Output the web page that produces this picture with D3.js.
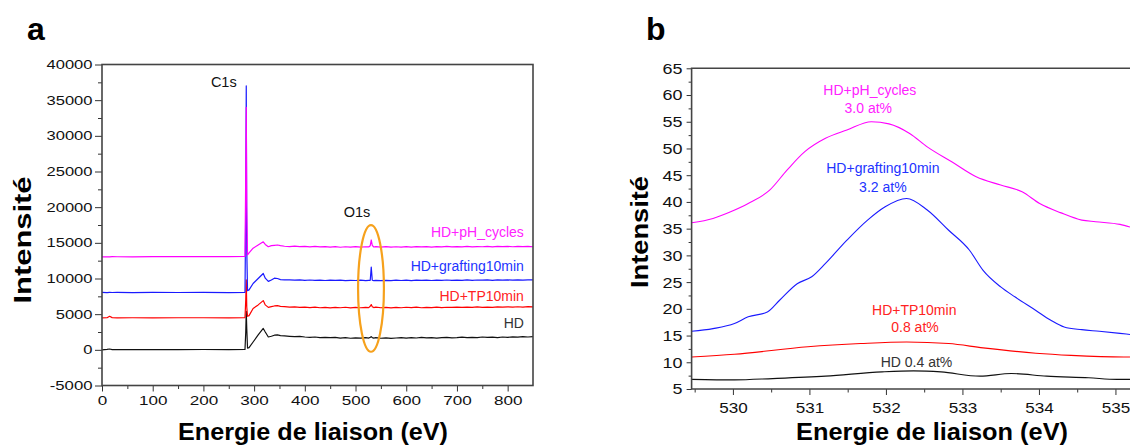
<!DOCTYPE html>
<html><head><meta charset="utf-8">
<script src="https://cdn.jsdelivr.net/npm/d3@7"></script>
<style>body{margin:0;background:#fff}svg{display:block}</style>
</head><body>
<svg id="c" width="1130" height="448"></svg>
<script>
// ---------- Panel a : survey spectra ----------
const surveyEnergy = [0,10,15,20,30,60,100,150,200,250,282,283.5,284.5,285.5,287,290,298,308,318,322,328,334,340,346,352,360,370,380,390,400,410,420,430,440,450,460,470,480,490,500,510,520,526,529,531,533,536,540,550,560,570,580,590,600,610,620,630,640,650,660,670,680,690,700,710,720,730,740,750,760,770,780,790,800,810,820,830,840,850];
const surveyHD = [0,60,120,40,50,20,40,30,50,30,60,2500,5400,3000,250,300,1100,2100,3000,2500,1800,1900,2050,2100,2000,1950,1900,1850,1880,1800,1760,1800,1720,1760,1700,1740,1650,1700,1620,1680,1640,1700,1650,1750,1850,1700,1650,1700,1620,1680,1600,1660,1720,1640,1700,1660,1740,1680,1720,1650,1700,1760,1680,1720,1780,1700,1760,1720,1800,1740,1780,1720,1800,1760,1820,1780,1840,1800,1840];
const surveyTP = [4480,4500,4700,4520,4490,4500,4490,4500,4500,4490,4500,7000,9800,6000,4700,4800,5800,6300,6900,6300,5950,6050,6150,6200,6100,6050,5980,6020,5950,6000,5920,5980,5900,5960,5880,5950,5900,5970,5880,5940,5900,5960,5920,6100,6350,6050,5920,5980,5900,5960,5880,5950,5900,5970,5920,5980,5900,5960,5930,5990,5920,5970,5940,6000,5950,5990,5940,6010,5960,6000,5950,6020,5980,6030,5990,6040,6000,6050,6030];
const surveyGraft = [8050,8030,8060,8040,8050,8030,8060,8040,8050,8030,8060,20000,37000,14000,8300,8400,9300,10000,10700,10050,9600,9800,10050,10000,9850,9800,9820,9760,9800,9750,9790,9740,9780,9720,9770,9730,9760,9700,9750,9720,9760,9700,9740,9750,11600,9760,9700,9740,9690,9750,9700,9760,9720,9770,9710,9760,9730,9780,9720,9770,9740,9790,9730,9780,9750,9800,9740,9790,9760,9800,9750,9810,9770,9800,9760,9810,9780,9820,9800];
const surveyPH = [13020,13050,13040,13060,13050,13040,13070,13060,13080,13070,13100,25000,34000,20000,13300,13600,14250,14700,15150,14780,14450,14600,14650,14700,14600,14520,14480,14550,14460,14500,14430,14490,14420,14470,14400,14460,14380,14450,14400,14470,14390,14450,14420,14600,15400,14650,14420,14470,14400,14460,14390,14450,14410,14470,14400,14460,14420,14480,14410,14470,14430,14490,14420,14470,14440,14500,14430,14480,14450,14500,14440,14490,14460,14510,14450,14490,14460,14500,14450];
const surveyXTicks = [0,100,200,300,400,500,600,700,800];
const surveyYTicks = [-5000,0,5000,10000,15000,20000,25000,30000,35000,40000];
const surveyNames = ["HD+pH_cycles","HD+grafting10min","HD+TP10min","HD"];

// ---------- Panel b : O1s region ----------
const o1sEnergyPH = [529.46,529.74,529.97,530.20,530.48,530.71,530.94,531.21,531.49,531.81,532.04,532.31,532.54,532.86,533.18,533.50,533.78,534.01,534.28,534.56,534.74,535.06,535.19];
const o1sPH = [36.1,36.9,38.15,39.7,42.2,46.0,49.4,51.9,53.45,55.0,54.6,52.8,50.3,47.5,44.7,43.15,41.9,39.7,38.0,36.6,36.3,35.8,35.3];
const o1sEnergyGraft = [529.46,529.74,530.02,530.20,530.45,530.61,530.84,531.03,531.21,531.49,531.76,531.99,532.27,532.54,532.82,533.09,533.27,533.50,533.69,533.96,534.15,534.33,534.56,534.79,535.06,535.19];
const o1sGraft = [15.8,16.3,17.25,18.5,19.4,21.6,24.7,26.0,28.5,32.85,36.6,39.1,40.65,38.5,34.7,31.0,27.2,24.1,22.2,19.7,17.9,16.6,16.1,15.8,15.4,15.2];
const o1sEnergyTP = [529.46,530.02,530.98,531.67,532.27,532.82,533.27,533.96,534.42,535.11,535.19];
const o1sTP = [11.0,11.5,12.9,13.5,13.8,13.5,12.7,11.7,11.3,11.0,11.0];
const o1sEnergyHD = [529.46,530.02,530.52,531.21,531.95,532.36,532.72,533.23,533.64,534.10,534.65,535.02,535.19];
const o1sHD = [6.8,6.7,6.95,7.4,8.2,8.4,8.2,7.4,7.9,7.4,7.1,6.8,6.8];
const o1sXTicks = [530,531,532,533,534,535];
const o1sYTicks = [5,10,15,20,25,30,35,40,45,50,55,60,65];
const o1sLabels = [
  {t:"HD+pH_cycles", e:531.79, v:60.0, c:"#ff22ff"},
  {t:"3.0 at%", e:531.77, v:56.7, c:"#ff22ff"},
  {t:"HD+grafting10min", e:531.96, v:45.47, c:"#2233ff"},
  {t:"3.2 at%", e:531.96, v:41.8, c:"#2233ff"},
  {t:"HD+TP10min", e:532.37, v:18.85, c:"#ff2222"},
  {t:"0.8 at%", e:532.38, v:15.6, c:"#ff2222"},
  {t:"HD 0.4 at%", e:532.40, v:9.17, c:"#333333"}
];

const colors = {ph:"#ff00ff", graft:"#1a1aff", tp:"#ff0000", hd:"#111111"};
const FONT = "Arial, 'Liberation Sans', sans-serif";

const svg = d3.select("#c");
svg.append("rect").attr("width",1130).attr("height",448).attr("fill","#fff");

function styleTicks(g, perChar, size){
  g.select(".domain").remove();
  g.selectAll("line").attr("stroke","#333").attr("stroke-width",1);
  g.selectAll("text").attr("font-family",FONT).attr("font-size",size).attr("fill","#111")
    .attr("textLength",function(){const s=this.textContent;return s.replace("-","").length*perChar+(s.includes("-")?6:0);})
    .attr("lengthAdjust","spacingAndGlyphs");
}

// ===== Panel a =====
const ax = d3.scaleLinear().domain([0,850]).range([102,533]);
const ay = d3.scaleLinear().domain([-5000,40000]).range([385.5,64.5]);
const gA = svg.append("g");

gA.append("g").attr("transform","translate(102,0)")
  .call(d3.axisLeft(ay).tickValues(d3.range(-2500,40000,5000)).tickSize(4).tickFormat(""))
  .call(g=>styleTicks(g,0,12));
gA.append("g").attr("transform","translate(102,0)")
  .call(d3.axisLeft(ay).tickValues(surveyYTicks).tickSize(7).tickPadding(2.5).tickFormat(d=>String(d)))
  .call(g=>styleTicks(g,9.2,12.5));
gA.append("g").attr("transform","translate(0,385.5)")
  .call(d3.axisBottom(ax).tickValues(d3.range(50,850,100)).tickSize(3.5).tickFormat(""))
  .call(g=>styleTicks(g,0,12));
gA.append("g").attr("transform","translate(0,385.5)")
  .call(d3.axisBottom(ax).tickValues(surveyXTicks).tickSize(6).tickPadding(4.5).tickFormat(d=>String(d)))
  .call(g=>styleTicks(g,9.5,13));

const lineA = arr => d3.line().x((d,i)=>ax(surveyEnergy[i])).y(d=>ay(d))(arr);
[[surveyHD,colors.hd],[surveyTP,colors.tp],[surveyGraft,colors.graft],[surveyPH,colors.ph]].forEach(([s,c])=>{
  gA.append("path").attr("d",lineA(s)).attr("fill","none").attr("stroke",c).attr("stroke-width",1.2).attr("stroke-linejoin","round");
});

gA.append("rect").attr("x",ax(0)).attr("y",ay(40000)).attr("width",ax(850)-ax(0)).attr("height",ay(-5000)-ay(40000))
  .attr("fill","none").attr("stroke","#444").attr("stroke-width",1.6);

// O1s ellipse
const ell = {e:530.5, v:8600, de:25.5, dv:8870};
gA.append("ellipse").attr("cx",ax(ell.e)).attr("cy",ay(ell.v))
  .attr("rx",ax(ell.e+ell.de)-ax(ell.e)).attr("ry",ay(ell.v-ell.dv)-ay(ell.v))
  .attr("fill","none").attr("stroke","#f6a11c").attr("stroke-width",2.2);

gA.append("text").attr("x",ax(240.2)).attr("y",ay(36840)).attr("text-anchor","middle")
  .attr("font-family",FONT).attr("font-size",14.5).attr("fill","#111").text("C1s");
gA.append("text").attr("x",ax(503)).attr("y",ay(18615)).attr("text-anchor","middle")
  .attr("font-family",FONT).attr("font-size",14.5).attr("fill","#111").text("O1s");
const aLabY = [15770,11090,6880,3010];
const aLabC = ["#ff22ff","#2233ff","#ff2222","#333333"];
surveyNames.forEach((n,i)=>{
  gA.append("text").attr("x",ax(832)).attr("y",ay(aLabY[i])).attr("text-anchor","end")
    .attr("font-family",FONT).attr("font-size",14).attr("fill",aLabC[i]).text(n);
});

gA.append("text").attr("transform","translate(31,240) rotate(-90)").attr("text-anchor","middle")
  .attr("font-family",FONT).attr("font-weight","bold").attr("font-size",24).attr("fill","#000")
  .attr("textLength",127).attr("lengthAdjust","spacingAndGlyphs").text("Intensité");
gA.append("text").attr("x",313).attr("y",440).attr("text-anchor","middle")
  .attr("font-family",FONT).attr("font-weight","bold").attr("font-size",24).attr("fill","#000")
  .attr("textLength",270).attr("lengthAdjust","spacingAndGlyphs").text("Energie de liaison (eV)");
gA.append("text").attr("x",27).attr("y",40).attr("font-family",FONT).attr("font-weight","bold")
  .attr("font-size",32).attr("fill","#000").text("a");

// ===== Panel b =====
const bx = d3.scaleLinear().domain([529.46,535.5]).range([691.6,1153.7]);
const by = d3.scaleLinear().domain([5,65]).range([389,68.3]);
const gB = svg.append("g");

gB.append("g").attr("transform","translate(691.6,0)")
  .call(d3.axisLeft(by).tickValues(d3.range(7.5,65,5)).tickSize(3).tickFormat(""))
  .call(g=>styleTicks(g,0,12));
gB.append("g").attr("transform","translate(691.6,0)")
  .call(d3.axisLeft(by).tickValues(o1sYTicks).tickSize(5).tickPadding(4).tickFormat(d=>String(d)))
  .call(g=>styleTicks(g,10,15.5));
gB.append("g").attr("transform","translate(0,389)")
  .call(d3.axisBottom(bx).tickValues(d3.range(529.5,535.6,1)).tickSize(3.5).tickFormat(""))
  .call(g=>styleTicks(g,0,12));
gB.append("g").attr("transform","translate(0,389)")
  .call(d3.axisBottom(bx).tickValues(o1sXTicks).tickSize(6).tickPadding(7).tickFormat(d=>String(d)))
  .call(g=>styleTicks(g,9.5,15));

const lineB = (xs,ys) => d3.line().curve(d3.curveMonotoneX).x((d,i)=>bx(xs[i])).y(d=>by(d))(ys);
[[o1sEnergyHD,o1sHD,colors.hd],[o1sEnergyTP,o1sTP,colors.tp],[o1sEnergyGraft,o1sGraft,colors.graft],[o1sEnergyPH,o1sPH,colors.ph]].forEach(([xs,ys,c])=>{
  gB.append("path").attr("d",lineB(xs,ys)).attr("fill","none").attr("stroke",c).attr("stroke-width",1.1).attr("stroke-linejoin","round");
});

gB.append("path").attr("d",`M${bx(535.5)},${by(65)}H${bx(529.46)}V${by(5)}H${bx(535.5)}`)
  .attr("fill","none").attr("stroke","#444").attr("stroke-width",1.6);

o1sLabels.forEach(l=>{
  gB.append("text").attr("x",bx(l.e)).attr("y",by(l.v)).attr("text-anchor","middle")
    .attr("font-family",FONT).attr("font-size",14).attr("fill",l.c).text(l.t);
});

gB.append("text").attr("transform","translate(648,232) rotate(-90)").attr("text-anchor","middle")
  .attr("font-family",FONT).attr("font-weight","bold").attr("font-size",24).attr("fill","#000")
  .attr("textLength",112).attr("lengthAdjust","spacingAndGlyphs").text("Intensité");
gB.append("text").attr("x",932).attr("y",440).attr("text-anchor","middle")
  .attr("font-family",FONT).attr("font-weight","bold").attr("font-size",24).attr("fill","#000")
  .attr("textLength",272).attr("lengthAdjust","spacingAndGlyphs").text("Energie de liaison (eV)");
gB.append("text").attr("x",646).attr("y",40).attr("font-family",FONT).attr("font-weight","bold")
  .attr("font-size",32).attr("fill","#000").text("b");
</script></body></html>
